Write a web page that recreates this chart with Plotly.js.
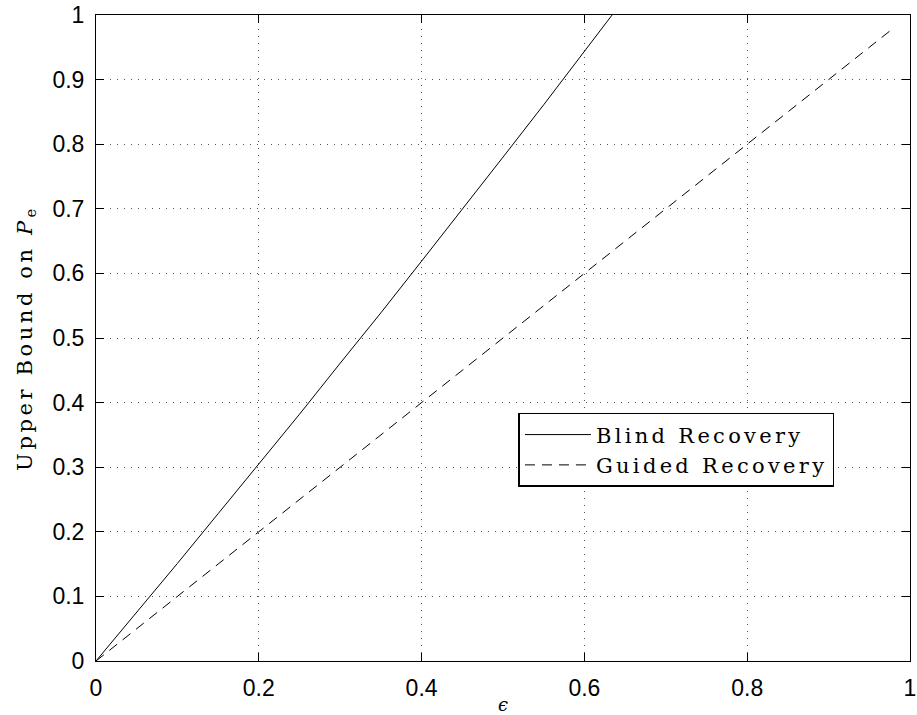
<!DOCTYPE html>
<html>
<head>
<meta charset="utf-8">
<script src="https://cdn.plot.ly/plotly-3.0.1.min.js"></script>
<style>
body{margin:0;padding:0;background:#fff;}
#chart{width:917px;height:715px;}
.legendtext{letter-spacing:3.3px;}
.ytitle{letter-spacing:3.6px;}
</style>
</head>
<body>
<div id="chart"></div>
<script>
// Data
const blindEps = [0, 0.05, 0.1, 0.15, 0.2, 0.25, 0.3, 0.35, 0.4, 0.45, 0.5, 0.55, 0.6, 0.634];
const blindPe  = [0, 0.075, 0.151, 0.228, 0.305, 0.382, 0.461, 0.539, 0.619, 0.699, 0.78, 0.861, 0.943, 1.0];
const guidedEps = [0, 0.98];
const guidedPe  = [0, 0.98];
const seriesNames = ["Blind Recovery", "Guided Recovery"];
const xTicks = [0, 0.2, 0.4, 0.6, 0.8, 1];
const xTickText = ["0", "0.2", "0.4", "0.6", "0.8", "1"];
const yTicks = [0, 0.1, 0.2, 0.3, 0.4, 0.5, 0.6, 0.7, 0.8, 0.9, 1];
const yTickText = ["0", "0.1", "0.2", "0.3", "0.4", "0.5", "0.6", "0.7", "0.8", "0.9", "1"];

const traces = [
  {x: blindEps, y: blindPe, name: seriesNames[0], mode: "lines", line: {color: "#000", width: 1, dash: "solid"}},
  {x: guidedEps, y: guidedPe, name: seriesNames[1], mode: "lines", line: {color: "#000", width: 1, dash: "10px,7px"}}
];

const axisCommon = {
  showline: true, linecolor: "#000", linewidth: 1, mirror: "ticks",
  ticks: "inside", ticklen: 8, tickcolor: "#000", tickwidth: 1,
  showgrid: true, gridcolor: "#555", gridwidth: 1, griddash: "1px,6px",
  zeroline: false, ticklabeloverflow: "allow",
  tickfont: {family: "Liberation Sans, Arial, sans-serif", size: 23, color: "#000"}
};

const layout = {
  width: 917, height: 715,
  margin: {l: 96, r: 7, t: 15, b: 54},
  paper_bgcolor: "#fff", plot_bgcolor: "#fff",
  showlegend: true,
  legend: {
    x: 0.519, y: 0.384, xanchor: "left", yanchor: "top",
    bordercolor: "#000", borderwidth: 1.5, bgcolor: "#fff",
    font: {family: "DejaVu Serif, serif", size: 21, color: "#000"},
    itemwidth: 66, tracegroupgap: 0
  },
  xaxis: Object.assign({}, axisCommon, {
    range: [0, 1], tickvals: xTicks, ticktext: xTickText, ticklabelstandoff: 6,
    title: {text: "<i>ϵ</i>", font: {family: "DejaVu Serif, serif", size: 18, color: "#000"}, standoff: 0}
  }),
  yaxis: Object.assign({}, axisCommon, {
    range: [0, 1], tickvals: yTicks, ticktext: yTickText, ticklabelstandoff: 6,
    title: {text: "Upper Bound on <i>P</i><sub>e</sub>", font: {family: "DejaVu Serif, serif", size: 21, color: "#000"}, standoff: 14}
  })
};

Plotly.newPlot("chart", traces, layout, {displayModeBar: false, staticPlot: true});
</script>
</body>
</html>
